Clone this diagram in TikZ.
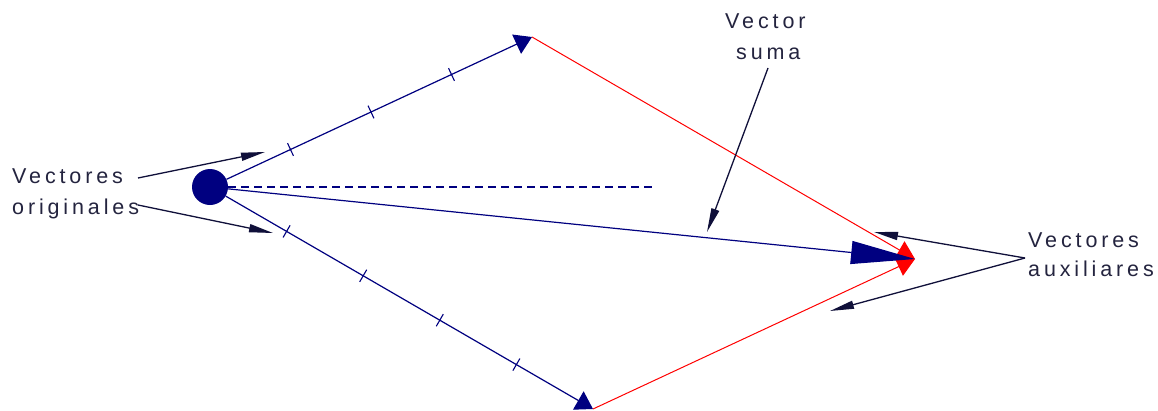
\documentclass[tikz,border=0pt]{standalone}
\usepackage{fontspec}
\setmainfont{Liberation Sans}
\newfontfamily\cadfont[LetterSpace=18]{Liberation Sans}
\usetikzlibrary{arrows.meta,decorations.markings}
\definecolor{vnavy}{HTML}{000080}
\definecolor{lblink}{HTML}{10103A}
\definecolor{lbltext}{HTML}{24243F}
\definecolor{vred}{HTML}{FF0000}
\begin{document}
\begin{tikzpicture}[x=1pt,y=-1pt,
  vec/.style={draw=vnavy, line width=1.2pt},
  redvec/.style={draw=vred, line width=1pt, -{Triangle[length=18pt,width=20pt]}, vred},
  lblarrow/.style={draw=lblink, line width=1.3pt, -{Triangle[length=24pt,width=8pt]}, lblink},
  lbl/.style={font=\cadfont\fontsize{21.5}{25}\selectfont, text=lbltext, inner sep=0pt, anchor=base west},
  ticks4/.style={decoration={markings,
     mark=at position 0.25 with {\draw[vnavy,line width=1.1pt] (0,-7pt) -- (0,7pt);},
     mark=at position 0.5 with {\draw[vnavy,line width=1.1pt] (0,-7pt) -- (0,7pt);},
     mark=at position 0.75 with {\draw[vnavy,line width=1.1pt] (0,-7pt) -- (0,7pt);}}, decorate},
  ticks5/.style={decoration={markings,
     mark=at position 0.2 with {\draw[vnavy,line width=1.1pt] (0,-7pt) -- (0,7pt);},
     mark=at position 0.4 with {\draw[vnavy,line width=1.1pt] (0,-7pt) -- (0,7pt);},
     mark=at position 0.6 with {\draw[vnavy,line width=1.1pt] (0,-7pt) -- (0,7pt);},
     mark=at position 0.8 with {\draw[vnavy,line width=1.1pt] (0,-7pt) -- (0,7pt);}}, decorate}
]
\useasboundingbox[fill=white] (0,0) rectangle (1158,410);

% points
\node[circle, fill=vnavy, minimum size=36pt, inner sep=0pt] (o) at (210,187) {};
\coordinate (tu) at (532,37);
\coordinate (tl) at (593,409);
\coordinate (ts) at (915,259);
\coordinate (dend) at (653,187);

% original vectors
\draw[vec, -{Triangle[length=17pt,width=21pt]}, vnavy] (o) -- (tu);
\draw[vec, -{Triangle[length=17pt,width=21pt]}, vnavy] (o) -- (tl);
\path[ticks4] (o.center) -- (tu);
\path[ticks5] (o.center) -- (tl);

% dashed reference
\draw[vec, dash pattern=on 8pt off 5pt] (o.east) -- (dend);

% auxiliary vectors
\draw[redvec] (tu) -- (ts);
\draw[redvec] (tl) -- (ts);

% sum vector
\draw[vec, -{Triangle[length=64pt,width=23pt]}, vnavy] (o) -- (ts);

% labels
\node[lbl] (voA) at (12,183) {Vectores};
\node[lbl] (voB) at (12,214) {originales};
\node[lbl] (vsA) at (725,28) {Vector};
\node[lbl] (vsB) at (736,59) {suma};
\node[lbl] (vaA) at (1028,247) {Vectores};
\node[lbl] (vaB) at (1028,276) {auxiliares};

\coordinate (la1) at (138,178);
\coordinate (ha1) at (265,152);
\coordinate (la2) at (138,205);
\coordinate (ha2) at (273,233);
\coordinate (ls) at (768,68);
\coordinate (hs) at (707,232);
\coordinate (ra) at (1025,258);
\coordinate (hr1) at (874,232);
\coordinate (hr2) at (830,311);

\draw[lblarrow] (la1) -- (ha1);
\draw[lblarrow] (la2) -- (ha2);
\draw[lblarrow] (ls) -- (hs);
\draw[lblarrow] (ra) -- (hr1);
\draw[lblarrow] (ra) -- (hr2);
\end{tikzpicture}
\end{document}
